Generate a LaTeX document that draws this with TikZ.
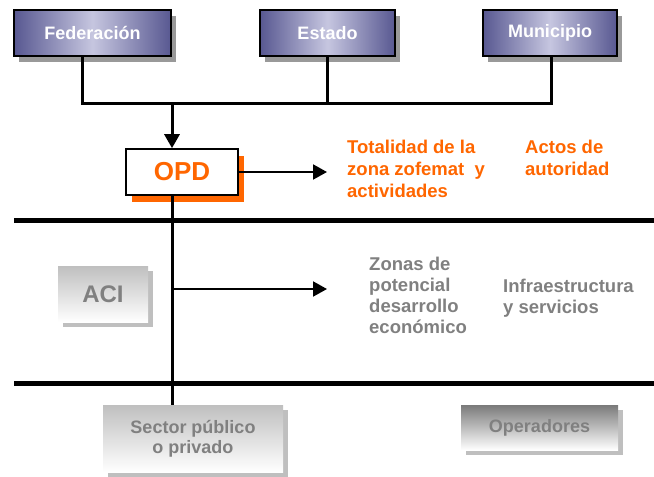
\documentclass[tikz,border=0pt]{standalone}
\usepackage{fontspec}
\setmainfont{Liberation Sans}
\usetikzlibrary{arrows.meta,shadows}
\definecolor{boxedge}{RGB}{88,88,145}
\definecolor{boxmid}{RGB}{198,198,224}
\definecolor{opdorange}{RGB}{255,102,0}
\definecolor{txtgray}{RGB}{128,128,128}
\begin{document}
\begin{tikzpicture}[x=1pt,y=-1pt,
  topbox/.style={draw=black, line width=1.6pt, left color=boxedge, right color=boxedge, middle color=boxmid,
    text=white, font=\bfseries\fontsize{18}{20}\selectfont, inner sep=0pt, minimum height=46pt,
    general shadow={fill=black!40, shadow xshift=5pt, shadow yshift=-6pt}},
  graybox/.style={top color=black!25, bottom color=white, text=txtgray, inner sep=0pt, align=center,
    general shadow={fill=black!25, shadow xshift=5pt, shadow yshift=-5pt}},
  conn/.style={draw=black, line width=3pt},
  arrowline/.style={draw=black, line width=2pt, -{Triangle[length=14pt,width=15pt]}},
  sepline/.style={draw=black, line width=5pt},
  orangetxt/.style={text=opdorange, font=\bfseries\fontsize{18.5}{22}\selectfont, align=left, inner sep=0pt, anchor=west},
  graytxt/.style={text=txtgray, font=\bfseries\fontsize{18.5}{21}\selectfont, align=left, inner sep=0pt, anchor=west}
]
\useasboundingbox (0,0) rectangle (654,477);

% top boxes
\node[topbox, minimum width=157pt] (fed) at (92.5,33) {Federación};
\node[topbox, minimum width=135pt] (est) at (327.5,33) {Estado};
\node[topbox, minimum width=134pt] (mun) at (550,33) {Municipio};

% bus
\coordinate (busL) at (82,103);
\coordinate (busR) at (551,103);
\coordinate (spine) at (172,103);
\draw[conn, line cap=rect] (fed.south -| busL) -- (busL) -- (busR) -- (mun.south -| busR);
\draw[conn] (est.south) -- (est.south |- busL);

% OPD
\node[draw=black, line width=1.6pt, fill=white, text=opdorange, font=\bfseries\fontsize{26}{30}\selectfont,
  minimum width=112pt, minimum height=46pt, inner sep=0pt,
  general shadow={fill=opdorange, shadow xshift=6pt, shadow yshift=-7pt}] (opd) at (182,172) {OPD};
\draw[conn, -{Triangle[length=14pt,width=15pt]}] (spine) -- (spine |- opd.north);

\coordinate (a1end) at (327,172);
\draw[arrowline] (opd.east) -- (a1end);

% orange texts
\node[orangetxt] (tot) at (347,169) {Totalidad de la\\zona zofemat\ \ y\\actividades};
\node[orangetxt] (actos) at (525,158) {Actos de\\autoridad};

% separator lines
\coordinate (h1l) at (14,220);
\coordinate (h1r) at (654,220);
\coordinate (h2l) at (14,383);
\coordinate (h2r) at (654,383);

% lower boxes
\node[graybox, font=\bfseries\fontsize{24}{28}\selectfont, minimum width=90pt, minimum height=56pt] (aci) at (103,294) {ACI};
\node[graybox, font=\bfseries\fontsize{18}{20}\selectfont, minimum width=180pt, minimum height=67pt] (sector) at (193,438.5) {Sector público\\o privado};
\node[graybox, top color=black!52, font=\bfseries\fontsize{18}{20}\selectfont, minimum width=157pt, minimum height=45pt] (oper) at (539.5,427.5) {Operadores};

% spine down
\draw[conn] (opd.south -| spine) -- (sector.north -| spine);
\draw[sepline] (h1l) -- (h1r);
\draw[sepline] (h2l) -- (h2r);

% ACI arrow
\coordinate (aciL) at (172,289);
\coordinate (aciR) at (327,289);
\draw[arrowline] (aciL) -- (aciR);

% gray texts
\node[graytxt] (zonas) at (369,295) {Zonas de\\potencial\\desarrollo\\económico};
\node[graytxt] (infra) at (503,298) {Infraestructura\\y servicios};
\end{tikzpicture}
\end{document}
